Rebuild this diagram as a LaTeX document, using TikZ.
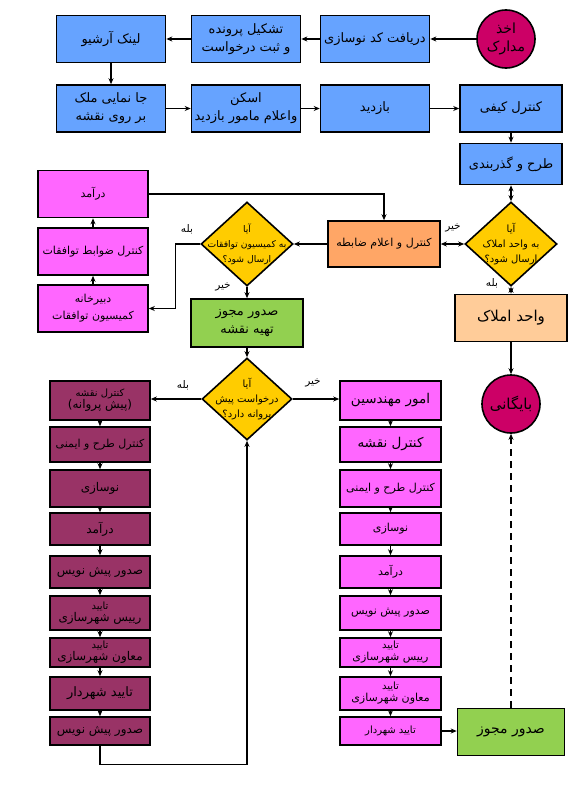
\documentclass[tikz,border=0pt]{standalone}
\usepackage{fontspec}
\usetikzlibrary{arrows.meta,shapes.geometric}
\newfontfamily\fafont[Script=Arabic]{DejaVu Sans}
\TeXXeTstate=1
\newcommand{\rl}[1]{\beginR#1\endR}
\newcommand{\fs}[2]{\fontsize{#1}{#2}\selectfont}
\definecolor{procblue}{RGB}{102,163,255}
\definecolor{startred}{RGB}{204,0,102}
\definecolor{ruleorange}{RGB}{255,166,102}
\definecolor{estatepeach}{RGB}{255,204,153}
\definecolor{askyellow}{RGB}{255,204,0}
\definecolor{okgreen}{RGB}{146,208,80}
\definecolor{pinkbox}{RGB}{255,102,255}
\definecolor{plumbox}{RGB}{153,51,102}
\tikzset{
	stage/.style={draw=black,line width=1.6pt,align=center,inner sep=1pt,
		font=\fafont\fs{13}{18}},
	bluebox/.style={stage,fill=procblue,minimum width=109pt,minimum height=47pt},
	pinkbig/.style={stage,fill=pinkbox,minimum width=110pt,minimum height=47pt},
	pinkcol/.style={stage,fill=pinkbox,minimum width=101pt,font=\fafont\fs{11}{12}},
	plumcol/.style={stage,fill=plumbox,minimum width=100pt,font=\fafont\fs{12}{12}},
	endcircle/.style={circle,draw=black,line width=1.6pt,fill=startred,minimum size=58pt,
		inner sep=0pt,align=center,font=\fafont\fs{14}{18}},
	decision/.style={diamond,draw=black,line width=1.6pt,fill=askyellow,
		minimum width=92pt,minimum height=84pt,inner sep=0pt},
	asktext/.style={align=center,font=\fafont\fs{10}{15}},
	answer/.style={font=\fafont\fs{10.5}{12}},
	flow/.style={-{Stealth[length=6pt,width=5pt]},line width=1.3pt},
	both/.style={{Stealth[length=6pt,width=5pt]}-{Stealth[length=6pt,width=5pt]},line width=1.3pt}
}
\begin{document}
\begin{tikzpicture}[x=1pt,y=-1pt]
	\useasboundingbox (0,0) rectangle (580,800);
	% top rows
	\node[endcircle] (start) at (506,39) {\rl{اخذ}\\\rl{مدارک}};
	\node[bluebox] (recv) at (375,39) {\rl{دریافت کد نوسازی}};
	\node[bluebox] (file) at (246,39) {\rl{تشکیل پرونده}\\\rl{و ثبت درخواست}};
	\node[bluebox] (link) at (111,39) {\rl{لینک آرشیو}};
	\node[bluebox] (locate) at (111,108.5) {\rl{جا نمایی ملک}\\\rl{بر روی نقشه}};
	\node[bluebox] (scan) at (246,108.5) {\rl{اسکن}\\\rl{واعلام مامور بازدید}};
	\node[bluebox] (visit) at (375,108.5) {\rl{بازدید}};
	\node[bluebox,minimum width=102pt] (qc) at (511,108.5) {\rl{کنترل کیفی}};
	\node[bluebox,minimum width=102pt,minimum height=41pt] (design) at (511,164) {\rl{طرح و گذربندی}};
	% decisions
	\node[decision] (q1) at (511,244) {};
	\node[asktext] (q1t) at (q1) {\rl{آیا}\\\rl{به واحد املاک}\\\rl{ارسال شود؟}};
	\node[stage,fill=estatepeach,minimum width=112pt,minimum height=47pt,
		font=\fafont\fs{15}{18}] (estate) at (511,318) {\rl{واحد املاک}};
	\node[endcircle,font=\fafont\fs{15}{18}] (archive) at (511,404) {\rl{بایگانی}};
	\node[stage,fill=ruleorange,minimum width=112pt,minimum height=46pt,
		font=\fafont\fs{11}{14}] (rule) at (384,244) {\rl{کنترل و اعلام ضابطه}};
	\node[decision] (q2) at (247,244) {};
	\node[asktext,font=\fafont\fs{9.2}{15}] (q2t) at (q2) {\rl{آیا}\\\rl{به کمیسیون توافقات}\\\rl{ارسال شود؟}};
	\node[pinkbig,font=\fafont\fs{11}{14}] (income) at (93,194) {\rl{درآمد}};
	\node[pinkbig,font=\fafont\fs{11}{14}] (check) at (93,251.5) {\rl{کنترل ضوابط توافقات}};
	\node[pinkbig,font=\fafont\fs{11}{17}] (secr) at (93,308.5) {\rl{دبیرخانه}\\\rl{کمیسیون توافقات}};
	\node[stage,fill=okgreen,minimum width=112pt,minimum height=48pt] (permit) at (247,323) {\rl{صدور مجوز}\\\rl{تهیه نقشه}};
	\node[decision,minimum width=90pt,minimum height=82pt] (q3) at (247,399) {};
	\node[asktext] (q3t) at (q3) {\rl{آیا}\\\rl{درخواست پیش}\\\rl{پروانه دارد؟}};
	% lower columns
	\foreach \y/\h/\t [count=\i] in {
		400.5/39pt/{\fs{10}{13}\rl{کنترل نقشه}\\\rl{(پیش پروانه)}},
		444.5/35pt/{\fs{11}{12}\rl{کنترل طرح و ایمنی}},
		488.5/37pt/{\rl{نوسازی}},
		529/32pt/{\rl{درآمد}},
		572/32pt/{\rl{صدور پیش نویس}},
		613/34pt/{\fs{10}{11}\rl{تایید}\\\rl{رییس شهرسازی}},
		652.5/29pt/{\fs{10}{11}\rl{تایید}\\\rl{معاون شهرسازی}},
		693.5/33pt/{\fs{13}{13}\rl{تایید شهردار}},
		731/28pt/{\rl{صدور پیش نویس}}}
		\node[plumcol,minimum height=\h] (L\i) at (100,\y) {\t};
	\foreach \y/\h/\t [count=\i] in {
		400.5/39pt/{\fs{13.5}{14}\rl{امور مهندسین}},
		444.5/35pt/{\fs{13.5}{14}\rl{کنترل نقشه}},
		488.5/37pt/{\rl{کنترل طرح و ایمنی}},
		529/32pt/{\rl{نوسازی}},
		572/32pt/{\rl{درآمد}},
		613/34pt/{\rl{صدور پیش نویس}},
		652.5/29pt/{\fs{10}{11}\rl{تایید}\\\rl{رییس شهرسازی}},
		693.5/33pt/{\fs{10}{11}\rl{تایید}\\\rl{معاون شهرسازی}},
		731/28pt/{\fs{10}{11}\rl{تایید شهردار}}}
		\node[pinkcol,minimum height=\h] (R\i) at (390.5,\y) {\t};
	\node[stage,fill=okgreen,minimum width=107pt,minimum height=47pt,
		font=\fafont\fs{14}{16}] (final) at (511,732) {\rl{صدور مجوز}};
	% answers
	\node[answer] (a1) at (453,228) {\rl{خیر}};
	\node[answer] (a2) at (492,283) {\rl{بله}};
	\node[answer] (a3) at (187,229) {\rl{بله}};
	\node[answer] (a4) at (223,287) {\rl{خیر}};
	\node[answer] (a5) at (183,385) {\rl{بله}};
	\node[answer] (a6) at (313,383) {\rl{خیر}};
	% connectors
	\draw[flow] (start) -- (recv);
	\draw[flow] (recv) -- (file);
	\draw[flow] (file) -- (link);
	\draw[flow] (link) -- (locate);
	\draw[flow] (locate) -- (scan);
	\draw[flow] (scan) -- (visit);
	\draw[flow] (visit) -- (qc);
	\draw[flow] (qc) -- (design);
	\draw[both] (design) -- (q1);
	\draw[both] (q1) -- (rule);
	\draw[both] (q1) -- (estate);
	\draw[flow] (estate) -- (archive);
	\draw[flow] (rule) -- (q2);
	\draw[flow] (q2.west) -- ++(-25,0) |- (secr.east);
	\draw[flow] (secr) -- (check);
	\draw[flow] (check) -- (income);
	\draw[flow] (income.east) -| (rule.north);
	\draw[flow] (q2) -- (permit);
	\draw[flow] (permit) -- (q3);
	\draw[flow] (q3.west) -- (q3.west -| L1.east);
	\draw[flow] (q3.east) -- (q3.east -| R1.west);
	\foreach \i [remember=\i as \prev (initially 1)] in {2,...,9} {
		\draw[flow] (L\prev) -- (L\i);
		\draw[flow] (R\prev) -- (R\i);
	}
	\draw[flow] (L9.south) -- ++(0,19) -| (q3.south);
	\draw[flow] (R9.east) -- (R9.east -| final.west);
	\draw[flow,dash pattern=on 7pt off 5pt] (final.north) -- (archive.south);
\end{tikzpicture}
\end{document}
